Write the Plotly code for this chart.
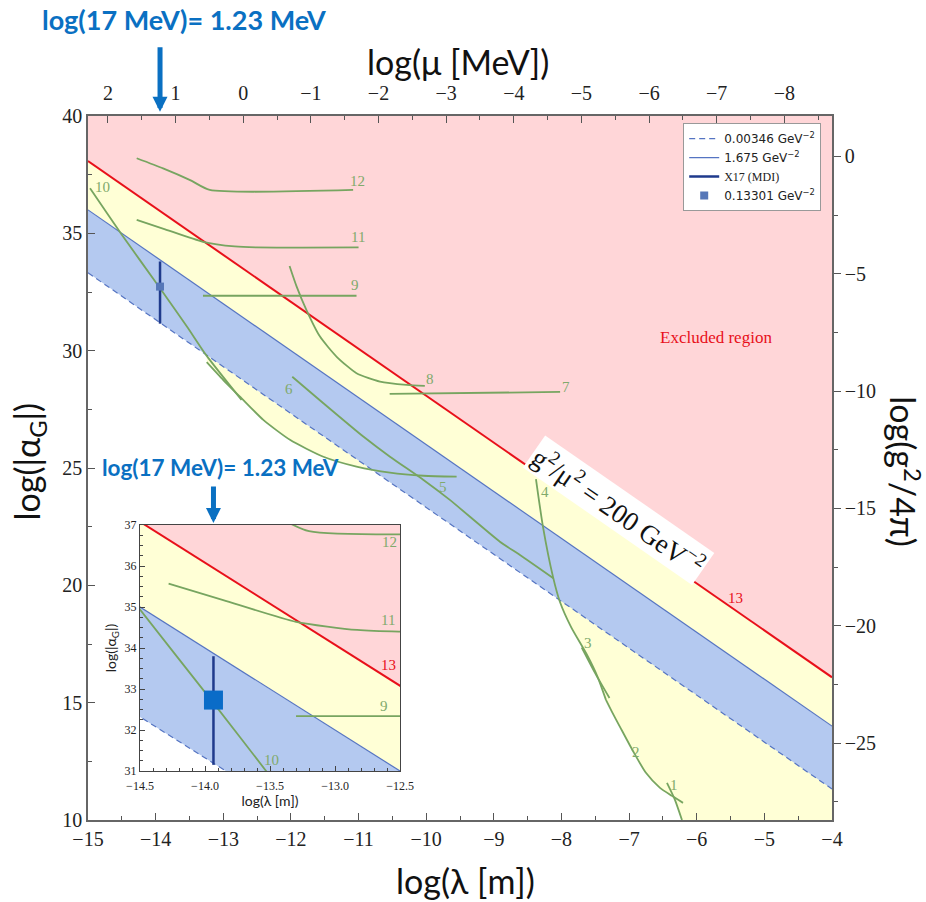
import numpy as np
import plotly.graph_objects as go

# ---------------- data ----------------
lam_range = [-15, -4]
alpha_range = [10, 40]
mu_offset = -12.705          # log(mu[MeV]) = mu_offset - log(lambda[m])
g_offset = -38.28            # log(g^2/4pi) = log|alpha_G| + g_offset

line_lam = [-15, -4]
red_alpha = [38.08, 16.08]       # g^2/mu^2 = 200 GeV^-2
solid_alpha = [36.0, 14.0]       # 1.675 GeV^-2
dash_alpha = [33.32, 11.32]      # 0.00346 GeV^-2

x17_lam = [-13.935, -13.935]
x17_alpha = [31.15, 33.80]
x17_pt_lam = [-13.935]
x17_pt_alpha = [32.73]

c12_x = [-14.28, -13.89, -13.49, -13.20, -11.08]
c12_y = [38.20, 37.77, 37.27, 36.85, 36.85]
c11_x = [-14.28, -13.86, -13.30, -12.83, -12.51, -11.00]
c11_y = [35.57, 35.17, 34.64, 34.44, 34.40, 34.40]
c10_x = [-14.97, -14.50, -13.94, -13.53, -13.25, -12.73]
c10_y = [36.92, 34.94, 32.68, 31.00, 29.80, 27.90]
c9_x = [-13.30, -11.03]
c9_y = [32.34, 32.34]
c8_x = [-12.02, -11.915, -11.77, -11.57, -11.323, -11.03, -10.683, -10.288, -10.02]
c8_y = [33.61, 32.73, 31.73, 30.60, 29.74, 29.04, 28.68, 28.54, 28.50]
c7_x = [-10.54, -8.02]
c7_y = [28.16, 28.24]
c6_x = [-11.98, -11.52, -10.93, -10.535, -10.04, -9.65, -8.91, -8.613, -8.12]
c6_y = [28.89, 27.76, 26.34, 25.48, 24.49, 23.64, 21.86, 21.29, 20.30]
c5_x = [-13.245, -13.0, -12.753, -12.408, -12.014, -11.52, -11.03, -10.535, -10.04, -9.55]
c5_y = [29.51, 28.75, 28.04, 27.05, 26.20, 25.48, 25.06, 24.80, 24.67, 24.63]
c4_x = [-8.377, -8.273, -8.125, -8.022, -7.859, -7.623, -7.460, -7.342]
c4_y = [24.53, 22.49, 20.36, 19.29, 18.23, 17.04, 16.06, 15.12]
c3_x = [-7.70, -7.50, -7.29]
c3_y = [17.35, 16.25, 15.20]
c2_x = [-7.342, -7.253, -7.135, -6.943, -6.751, -6.543, -6.366, -6.203]
c2_y = [15.12, 14.61, 13.97, 12.94, 12.01, 11.37, 11.03, 10.73]
c1_x = [-6.440, -6.322, -6.218]
c1_y = [11.58, 10.86, 10.0]

lab_text = ["12", "11", "9", "10", "8", "7", "6", "5", "4", "3", "2", "1"]
lab_x = [-11.02, -11.01, -11.05, -14.78, -9.94, -7.93, -12.03, -9.75, -8.24, -7.61, -6.90, -6.34]
lab_y = [37.23, 34.84, 32.80, 36.97, 28.79, 28.45, 28.37, 24.19, 23.98, 17.55, 12.90, 11.50]

inset_x_range = [-14.5, -12.5]
inset_y_range = [31, 37]
in_lab_text = ["12", "11", "9", "10"]
in_lab_x = [-12.58, -12.59, -12.62, -13.49]
in_lab_y = [36.59, 34.68, 32.59, 31.28]

# ---------------- styles ----------------
PINK = "#ffd6d8"
YELLOW = "#ffffd6"
BLUEBAND = "#b4c9f0"
RED = "#e8101a"
BLUELINE = "#5574c2"
GREEN = "#77a560"
GREENTXT = "#80aa6c"
NAVY = "#1f3a8c"
ARROWBLUE = "#0a70c2"
SERIF = "Liberation Serif"
SANS = "Lato"

fig = go.Figure()


def poly(x, y, color, xa="x", ya="y"):
    fig.add_trace(go.Scatter(x=x, y=y, mode="lines", fill="toself", fillcolor=color,
                             line=dict(width=0, color=color), hoverinfo="skip",
                             showlegend=False, xaxis=xa, yaxis=ya))


def dash_at(x):
    return float(np.interp(x, line_lam, dash_alpha))


top = alpha_range[1]
bot = alpha_range[0]

# ---- main subplot fills ----
poly(c5_x + [c5_x[-1], c5_x[0]], c5_y + [dash_at(c5_x[-1]), dash_at(c5_x[0])], YELLOW)
bx = c4_x + c2_x[:6] + c1_x[1:] + [lam_range[1], lam_range[1]]
by = c4_y + c2_y[:6] + c1_y[1:] + [bot, dash_at(lam_range[1])]
poly(bx, by, YELLOW)
poly(line_lam + line_lam[::-1], solid_alpha + dash_alpha[::-1], BLUEBAND)
poly(line_lam + line_lam[::-1], red_alpha + solid_alpha[::-1], YELLOW)
poly(line_lam + line_lam[::-1], red_alpha + [top, top], PINK)


def boundary_lines(xa="x", ya="y", legend=True):
    fig.add_trace(go.Scatter(x=line_lam, y=dash_alpha, mode="lines",
                             line=dict(color=BLUELINE, width=1.2, dash="6px,4px"),
                             name="0.00346 GeV<sup>−2</sup>", legendrank=1,
                             showlegend=legend, xaxis=xa, yaxis=ya, hoverinfo="skip"))
    fig.add_trace(go.Scatter(x=line_lam, y=solid_alpha, mode="lines",
                             line=dict(color=BLUELINE, width=1.2),
                             name="1.675 GeV<sup>−2</sup>", legendrank=2,
                             showlegend=legend, xaxis=xa, yaxis=ya, hoverinfo="skip"))
    fig.add_trace(go.Scatter(x=line_lam, y=red_alpha, mode="lines",
                             line=dict(color=RED, width=2), showlegend=False,
                             xaxis=xa, yaxis=ya, hoverinfo="skip"))


boundary_lines()

for cx, cy in [(c12_x, c12_y), (c11_x, c11_y), (c10_x, c10_y), (c9_x, c9_y), (c8_x, c8_y),
               (c7_x, c7_y), (c6_x, c6_y), (c5_x, c5_y), (c4_x, c4_y), (c3_x, c3_y),
               (c2_x, c2_y), (c1_x, c1_y)]:
    fig.add_trace(go.Scatter(x=cx, y=cy, mode="lines",
                             line=dict(color=GREEN, width=1.8, shape="spline", smoothing=0.6),
                             showlegend=False, hoverinfo="skip"))

fig.add_trace(go.Scatter(x=x17_lam, y=x17_alpha, mode="lines", line=dict(color=NAVY, width=2.5),
                         name="<span style='font-family:Liberation Serif'>X17 (MDI)</span>", legendrank=3))
fig.add_trace(go.Scatter(x=x17_pt_lam, y=x17_pt_alpha, mode="markers",
                         marker=dict(symbol="square", size=8, color="#5677b8"),
                         name="0.13301 GeV<sup>−2</sup>", legendrank=4))

fig.add_trace(go.Scatter(x=[], y=[], xaxis="x3", yaxis="y", showlegend=False))
fig.add_trace(go.Scatter(x=[], y=[], xaxis="x", yaxis="y3", showlegend=False))

# ---- inset ----
poly([lam_range[0], lam_range[1], lam_range[1], lam_range[0]], [bot, bot, top, top], "white", "x2", "y2")
poly(line_lam + line_lam[::-1], solid_alpha + dash_alpha[::-1], BLUEBAND, "x2", "y2")
poly(line_lam + line_lam[::-1], red_alpha + solid_alpha[::-1], YELLOW, "x2", "y2")
poly(line_lam + line_lam[::-1], red_alpha + [top, top], PINK, "x2", "y2")
boundary_lines("x2", "y2", legend=False)
for cx, cy in [(c12_x, c12_y), (c11_x, c11_y), (c10_x, c10_y), (c9_x, c9_y)]:
    fig.add_trace(go.Scatter(x=cx, y=cy, mode="lines",
                             line=dict(color=GREEN, width=1.8, shape="spline", smoothing=0.6),
                             showlegend=False, hoverinfo="skip", xaxis="x2", yaxis="y2"))
fig.add_trace(go.Scatter(x=x17_lam, y=x17_alpha, mode="lines", line=dict(color=NAVY, width=2.5),
                         showlegend=False, xaxis="x2", yaxis="y2"))
fig.add_trace(go.Scatter(x=x17_pt_lam, y=x17_pt_alpha, mode="markers",
                         marker=dict(symbol="square", size=19, color="#0a6cc8"),
                         showlegend=False, xaxis="x2", yaxis="y2"))

# ---------------- annotations ----------------
ann = []
C = dict(xanchor="center", yanchor="middle", showarrow=False)
for t, x, y in zip(lab_text, lab_x, lab_y):
    ann.append(dict(C, x=x, y=y, xref="x", yref="y", text=t,
                    font=dict(family=SERIF, size=15, color=GREENTXT)))
ann.append(dict(C, x=-5.43, y=19.46, xref="x", yref="y", text="13",
                font=dict(family=SERIF, size=15, color=RED)))
ann.append(dict(C, x=-5.716, y=30.54, xref="x", yref="y", text="Excluded region",
                font=dict(family=SERIF, size=17, color=RED)))
ann.append(dict(C, x=-7.16, y=23.2, xref="x", yref="y",
                text="g<sup>2</sup>/μ<sup>2</sup> = 200 GeV<sup>−2</sup>",
                textangle=34.8, bgcolor="white", borderpad=2,
                font=dict(family=SERIF, size=27, color="#111")))
for t, x, y in zip(in_lab_text, in_lab_x, in_lab_y):
    ann.append(dict(C, x=x, y=y, xref="x2", yref="y2", text=t,
                    font=dict(family=SERIF, size=15, color=GREENTXT)))
ann.append(dict(C, x=-12.59, y=33.59, xref="x2", yref="y2", text="13",
                font=dict(family=SERIF, size=15, color=RED)))

# axis titles
ann.append(dict(C, x=0.508, y=-0.0855, xref="paper", yref="paper", text="log(λ [m])",
                font=dict(family=SANS, size=34, color="#111")))
ann.append(dict(C, x=-0.08, y=0.51, xref="paper", yref="paper", text="log(|α<sub>G</sub>|)",
                textangle=-90, font=dict(family=SANS, size=34, color="#111")))
ann.append(dict(C, x=1.098, y=0.494, xref="paper", yref="paper", text="log(g<sup>2</sup>/4π)",
                textangle=90, font=dict(family=SANS, size=34, color="#111")))
ann.append(dict(C, x=0.497, y=1.077, xref="paper", yref="paper", text="log(μ [MeV])",
                font=dict(family=SANS, size=34, color="#111")))

# X17 mass notes with arrows
ann.append(dict(x=-0.0645, y=1.137, xref="paper", yref="paper", xanchor="left", yanchor="middle",
                text="<b>log(17 MeV)= 1.23 MeV</b>", showarrow=False,
                font=dict(family=SANS, size=27, color=ARROWBLUE)))
ann.append(dict(x=x17_lam[0], y=1.006, xref="x", yref="paper", ax=0, ay=-66, text="",
                showarrow=True, arrowhead=2, arrowwidth=5, arrowsize=0.6, arrowcolor=ARROWBLUE, standoff=0))
ann.append(dict(x=0.016, y=0.5014, xref="paper", yref="paper", xanchor="left", yanchor="middle",
                text="<b>log(17 MeV)= 1.23 MeV</b>", showarrow=False,
                font=dict(family=SANS, size=22.5, color=ARROWBLUE)))
ann.append(dict(x=x17_lam[0], y=0.4219, xref="x2", yref="paper", ax=0, ay=-38, text="",
                showarrow=True, arrowhead=2, arrowwidth=5, arrowsize=0.6, arrowcolor=ARROWBLUE, standoff=0))

AX = dict(showgrid=False, zeroline=False, showline=True, linecolor="#666", linewidth=1.5,
          tickcolor="#555", tickfont=dict(family=SERIF, size=20, color="#222"))

fig.update_layout(
    width=926, height=902,
    margin=dict(l=88, r=94, t=116, b=82),
    plot_bgcolor="white", paper_bgcolor="white",
    annotations=ann,
    legend=dict(x=0.80, y=0.99, xanchor="left", yanchor="top", bgcolor="white",
                bordercolor="#999", borderwidth=1, itemwidth=30,
                font=dict(family="DejaVu Sans", size=12, color="#222")),
    xaxis=dict(AX, domain=[0, 1], range=lam_range, dtick=1, ticks="inside", ticklen=7,
               minor=dict(ticks="inside", dtick=0.5, ticklen=4, tickcolor="#555"), anchor="y"),
    yaxis=dict(AX, domain=[0, 1], range=alpha_range, dtick=5, ticks="inside", ticklen=7,
               minor=dict(ticks="inside", dtick=2.5, ticklen=4, tickcolor="#555"), anchor="x"),
    xaxis3=dict(AX, overlaying="x", side="top", anchor="y",
                range=[mu_offset - lam_range[0], mu_offset - lam_range[1]], dtick=1,
                ticks="inside", ticklen=7, ticklabelstandoff=6,
                minor=dict(ticks="inside", dtick=0.5, ticklen=4, tickcolor="#555")),
    yaxis3=dict(AX, overlaying="y", side="right", anchor="x",
                range=[alpha_range[0] + g_offset, alpha_range[1] + g_offset], dtick=5,
                ticks="outside", ticklen=7,
                minor=dict(ticks="outside", dtick=2.5, ticklen=4, tickcolor="#555")),
    xaxis2=dict(showgrid=False, zeroline=False, showline=True, mirror=True, linecolor="#444",
                linewidth=1.2, domain=[0.0699, 0.4194], range=inset_x_range, anchor="y2",
                dtick=0.5, tickformat=".1f", ticks="inside", ticklen=5, tickcolor="#444",
                ticklabelstandoff=3,
                minor=dict(ticks="inside", dtick=0.1, ticklen=3, tickcolor="#444"),
                tickfont=dict(family=SERIF, size=12, color="#222"),
                title=dict(text="log(λ [m])", standoff=2, font=dict(family=SANS, size=14, color="#222"))),
    yaxis2=dict(showgrid=False, zeroline=False, showline=True, mirror=True, linecolor="#444",
                linewidth=1.2, domain=[0.0696, 0.419], range=inset_y_range, anchor="x2",
                dtick=1, ticks="inside", ticklen=5, tickcolor="#444",
                minor=dict(ticks="inside", dtick=0.25, ticklen=3, tickcolor="#444"),
                tickfont=dict(family=SERIF, size=12, color="#222"),
                title=dict(text="log(|α<sub>G</sub>|)", standoff=4, font=dict(family=SANS, size=14, color="#222"))),
)

fig.write_html("out.html")
